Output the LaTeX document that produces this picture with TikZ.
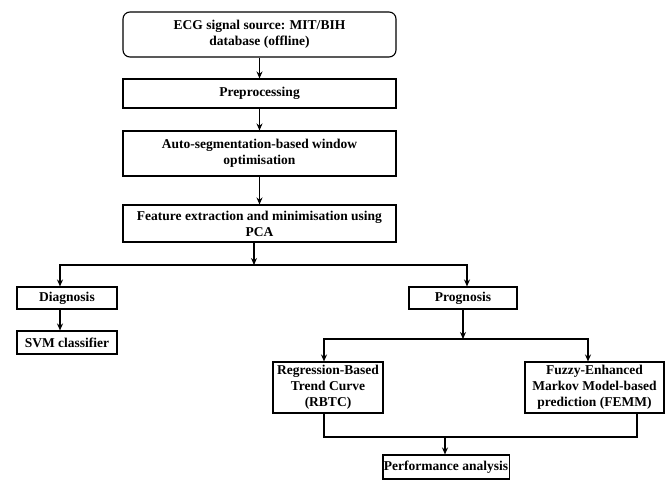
\documentclass[tikz,border=0pt]{standalone}
\usepackage{fontspec}
\setmainfont{Liberation Serif}
\usetikzlibrary{positioning, arrows.meta}

\begin{document}
\begin{tikzpicture}[x=1pt,y=-1pt,
        blk/.style={draw, line width=1.1pt, align=center, inner sep=1pt,
            font=\fontsize{13.5}{16}\selectfont\bfseries},
        wide/.style={blk, minimum width=273pt},
        link/.style={line width=1.1pt},
        arr/.style={link, -{Stealth[length=7pt,width=6pt]}}]

        \useasboundingbox (0,0) rectangle (665,480);

        % main chain
        \node[wide, rounded corners=7pt, minimum height=45pt] (ecg) at (259.5,34.5) {ECG signal source: MIT/BIH\\database (offline)};
        \node[wide, minimum height=29pt] (pre) at (259.5,93.5) {Preprocessing};
        \node[wide, minimum height=45pt] (seg) at (259.5,153.5) {Auto-segmentation-based window\\optimisation};
        \node[wide, minimum height=37pt] (feat) at (259.5,223.5) {Feature extraction and minimisation using\\PCA};

        % two branches
        \node[blk, minimum width=100pt, minimum height=22pt] (diag) at (67,298) {Diagnosis};
        \node[blk, minimum width=100pt, minimum height=23pt] (svm) at (67,342.5) {SVM classifier};
        \node[blk, minimum width=108pt, minimum height=22pt] (prog) at (463,298) {Prognosis};
        \node[blk, minimum width=110pt, minimum height=51pt] (rbtc) at (328,387.5) {Regression-Based\\Trend Curve\\(RBTC)};
        \node[blk, minimum width=139pt, minimum height=51pt] (femm) at (594.5,387.5) {Fuzzy-Enhanced\\Markov Model-based\\prediction (FEMM)};
        \node[blk, minimum width=124pt, minimum height=24pt] (perf) at (446,467) {Performance analysis};

        \coordinate (split) at (254,265);
        \coordinate (fork) at (463,339);
        \coordinate (join) at (445,437);

        \draw[arr] (ecg) -- (pre);
        \draw[arr] (pre) -- (seg);
        \draw[arr] (seg) -- (feat);
        \draw[arr] (feat.south -| split) -- (split);
        \draw[arr] (split) -| ([xshift=-7pt]diag.north);
        \draw[arr] (split) -| ([xshift=4pt]prog.north);
        \draw[arr] ([xshift=-7pt]diag.south) -- ([xshift=-7pt]svm.north);
        \draw[arr] (prog) -- (fork);
        \draw[arr] (fork) -| ([xshift=-4pt]rbtc.north);
        \draw[arr] (fork) -| ([xshift=-6.5pt]femm.north);
        \draw[link] ([xshift=-4pt]rbtc.south) |- (join);
        \draw[link] ([xshift=42.5pt]femm.south) |- (join);
        \draw[arr] (join) -- (perf.north -| join);

    \end{tikzpicture}
\end{document}
